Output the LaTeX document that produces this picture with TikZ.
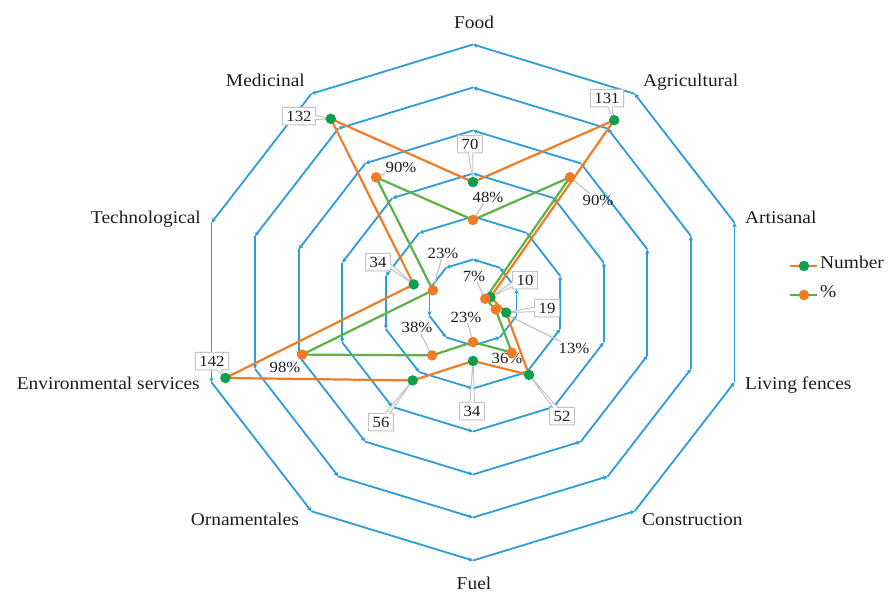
\documentclass[tikz,border=0pt]{standalone}
\usepackage{fontspec}
\setmainfont{Liberation Serif}[FakeStretch=1.08]
\usetikzlibrary{arrows.meta,shapes.callouts}
\definecolor{gridblue}{RGB}{46,155,218}
\definecolor{sorange}{RGB}{244,123,38}
\definecolor{sgreen}{RGB}{92,178,68}
\definecolor{mgreen}{RGB}{12,160,78}
\definecolor{lgray}{RGB}{196,196,196}
\definecolor{txt}{RGB}{30,30,30}
\begin{document}
\begin{tikzpicture}[x=1pt,y=1pt,
  gridline/.style={gridblue, line width=1.8pt, -{Stealth[length=4.5pt,width=4.5pt]}},
  axlabel/.style={font=\fontsize{18}{18}\selectfont, text=txt, inner sep=0pt},
  legtext/.style={font=\fontsize{18}{18}\selectfont, text=txt, inner sep=0pt},
  numline/.style={sorange,line width=2.2pt,line join=round},
  pctline/.style={sgreen,line width=2.2pt,line join=round},
  nummark/.style={circle,fill=mgreen,inner sep=0pt,minimum size=10.5pt},
  pctmark/.style={circle,fill=sorange,inner sep=0pt,minimum size=10.5pt},
  numlab/.style={rectangle callout, draw=lgray, fill=white, line width=1pt,
     font=\fontsize{15.5}{15.5}\selectfont, text=txt, inner xsep=4pt, inner ysep=3.5pt,
     text height=10.5pt, text depth=0pt, callout pointer width=4.5pt},
  pctlab/.style={font=\fontsize{15.5}{15.5}\selectfont, text=txt, inner sep=1pt},
  leader/.style={lgray, line width=1.2pt},
]
\useasboundingbox (0,0) rectangle (888,-594);
\fill[white] (0,0) rectangle (888,-594);

\begin{scope}[shift={(473,-302.5)}, x=1.8333pt, y=1.72pt]
  % grid
  \foreach \r in {25,50,...,150}{
    \foreach \a in {90,54,...,-234}{
      \draw[gridline] (\a:\r) -- (\a+36:\r);
    }
  }
  % data coordinates
  \foreach \ang/\n/\p [count=\k] in {90/70/48, 54/131/90, 18/10/7, -18/19/13,
      -54/52/36, -90/34/23, -126/56/38, -162/142/98, 162/34/23, 126/132/90}{
    \coordinate (n\k) at (\ang:\n);
    \coordinate (p\k) at (\ang:\p);
  }
\end{scope}

% axis labels
\node[axlabel] (aFood) at (474,-22) {Food};
\node[axlabel, anchor=mid west] (aAgr) at (643,-84) {Agricultural};
\node[axlabel, anchor=mid west] (aArt) at (745,-221) {Artisanal};
\node[axlabel, anchor=mid west] (aLiv) at (745,-387) {Living fences};
\node[axlabel, anchor=mid west] (aCon) at (642,-523) {Construction};
\node[axlabel] (aFuel) at (474,-583) {Fuel};
\node[axlabel, anchor=mid east] (aOrn) at (299,-523) {Ornamentales};
\node[axlabel, anchor=mid east] (aEnv) at (200,-387) {Environmental services};
\node[axlabel, anchor=mid east] (aTec) at (201,-221) {Technological};
\node[axlabel, anchor=mid east] (aMed) at (305,-84) {Medicinal};

% series lines
\draw[numline] (n1) -- (n2) -- (n3) -- (n4) -- (n5) -- (n6) -- (n7) -- (n8) -- (n9) -- (n10) -- cycle;
\draw[pctline] (p1) -- (p2) -- (p3) -- (p4) -- (p5) -- (p6) -- (p7) -- (p8) -- (p9) -- (p10) -- cycle;

% percentage labels
\node[pctlab] (l1) at (488,-197) {48\%};
\node[pctlab] (l2) at (598,-200) {90\%};
\node[pctlab] (l3) at (474,-276) {7\%};
\node[pctlab] (l4) at (574,-348) {13\%};
\node[pctlab] (l5) at (507,-358) {36\%};
\node[pctlab] (l6) at (466,-317) {23\%};
\node[pctlab] (l7) at (417,-327) {38\%};
\node[pctlab] (l8) at (285,-367) {98\%};
\node[pctlab] (l9) at (443,-253) {23\%};
\node[pctlab] (l10) at (401,-167) {90\%};
\foreach \k in {1,2,3,4,6,7,9,10}{
  \draw[leader] (l\k) -- (p\k);
}

% number labels (callouts)
\node[numlab, callout absolute pointer={(n1)}] (b1) at (470,-144) {70};
\node[numlab, callout absolute pointer={(n2)}] (b2) at (607,-98) {131};
\node[numlab, callout absolute pointer={(n3)}] (b3) at (525,-280) {10};
\node[numlab, callout absolute pointer={(n4)}] (b4) at (547,-308) {19};
\node[numlab, callout absolute pointer={(n5)}] (b5) at (562,-416) {52};
\node[numlab, callout absolute pointer={(n6)}] (b6) at (472,-411) {34};
\node[numlab, callout absolute pointer={(n7)}] (b7) at (381,-422) {56};
\node[numlab, callout absolute pointer={(n8)}] (b8) at (212,-361) {142};
\node[numlab, callout absolute pointer={(n9)}] (b9) at (378,-262) {34};
\node[numlab, callout absolute pointer={(n10)}] (b10) at (299,-116) {132};

% markers
\foreach \k in {1,...,10}{
  \node[nummark] (mn\k) at (n\k) {};
  \node[pctmark] (mp\k) at (p\k) {};
}

% legend
\coordinate (lg1a) at (790,-266);
\coordinate (lg1b) at (817,-266);
\coordinate (lg2a) at (790,-295);
\coordinate (lg2b) at (817,-295);
\draw[numline] (lg1a) -- (lg1b);
\node[nummark] (lgm1) at (804,-266) {};
\node[legtext, anchor=mid west] (lgt1) at (820,-266) {Number};
\draw[pctline] (lg2a) -- (lg2b);
\node[pctmark] (lgm2) at (804,-295) {};
\node[legtext, anchor=mid west] (lgt2) at (820,-295) {\%};
\end{tikzpicture}
\end{document}
